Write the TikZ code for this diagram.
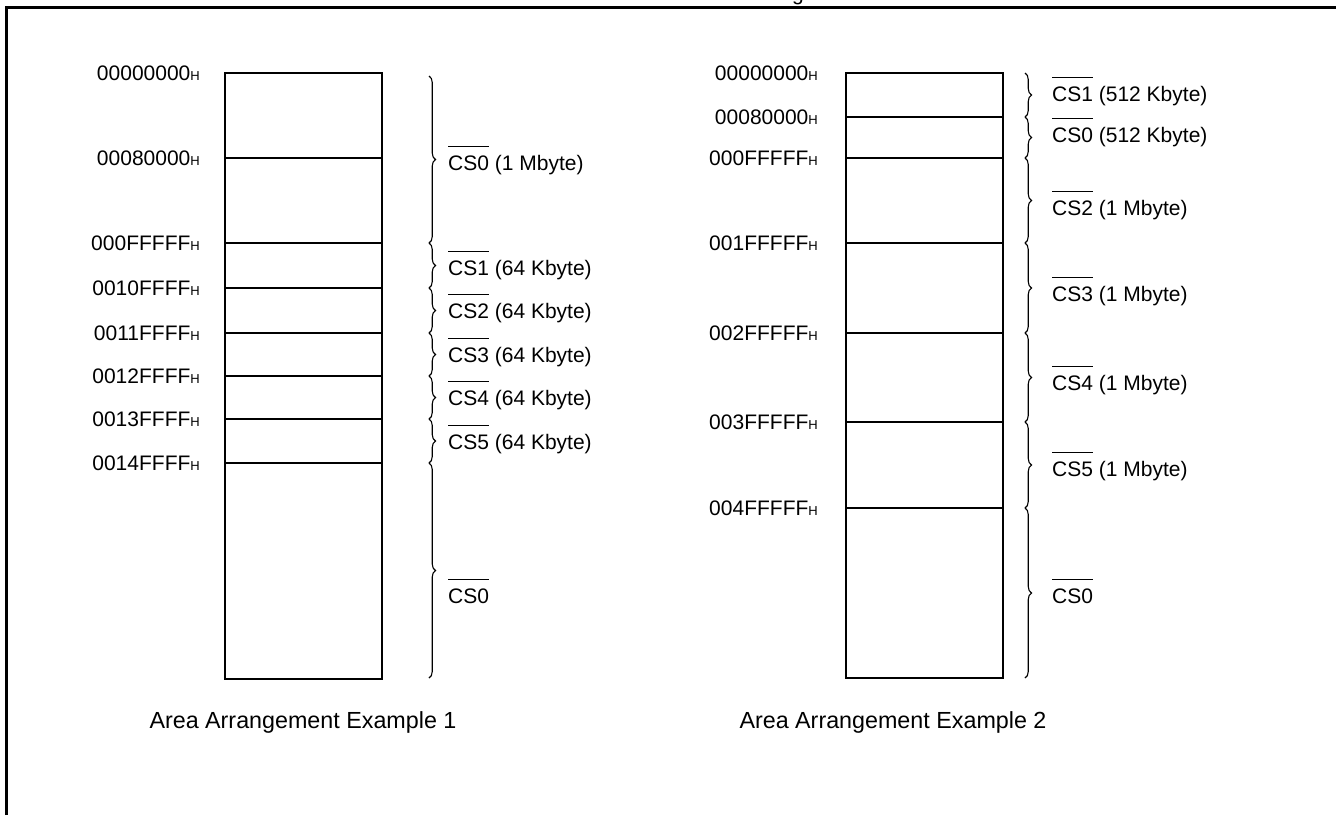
\documentclass[tikz,border=0pt]{standalone}
\usepackage{fontspec}
\setmainfont{Liberation Sans}
\usetikzlibrary{decorations.pathreplacing}
\newcommand{\addrH}{{\fontsize{13}{14}\selectfont H}}
\newcommand{\ovl}[1]{\vbox{\hrule height 1.2pt \kern 8.5pt \hbox{#1}}}
\begin{document}
\begin{tikzpicture}[x=1pt,y=-1pt,
  frame/.style={line width=2.2pt},
  mem/.style={line width=2.2pt},
  divline/.style={line width=1.2pt},
  addr/.style={anchor=base east,inner sep=0pt,font=\fontsize{21}{24}\selectfont},
  cslab/.style={anchor=base west,inner sep=0pt,font=\fontsize{21}{24}\selectfont},
  caption/.style={anchor=base,inner sep=0pt,font=\fontsize{23.3}{27}\selectfont},
  brc/.style={decorate,decoration={brace,amplitude=6.5pt},line width=1.1pt}]
\useasboundingbox (0,0) rectangle (1336,815);
% frame
\draw[frame] (6.5,815) -- (6.5,7.5) -- (1336,7.5);
\node[anchor=base,inner sep=0pt,font=\fontsize{21}{24}\selectfont] (ttl) at (798,0.5) {g};

% ---------- Example 1 ----------
\draw[mem] (225,73) rectangle (382,679);
\foreach \y in {158,243,288,333,376,419,463}
  \draw[divline] (225,\y) -- (382,\y);
\node[addr] (a1) at (200,80.6) {00000000\addrH};
\node[addr] (a2) at (200,165.6) {00080000\addrH};
\node[addr] (a3) at (200,250.6) {000FFFFF\addrH};
\node[addr] (a4) at (200,295.6) {0010FFFF\addrH};
\node[addr] (a5) at (200,340.6) {0011FFFF\addrH};
\node[addr] (a6) at (200,383.6) {0012FFFF\addrH};
\node[addr] (a7) at (200,426.6) {0013FFFF\addrH};
\node[addr] (a8) at (200,470.6) {0014FFFF\addrH};

\coordinate (b0) at (429,76);
\coordinate (b1) at (429,243);
\coordinate (b2) at (429,288);
\coordinate (b3) at (429,333);
\coordinate (b4) at (429,376);
\coordinate (b5) at (429,419);
\coordinate (b6) at (429,463);
\coordinate (b7) at (429,678);
\draw[brc] (b0) -- (b1);
\draw[brc] (b1) -- (b2);
\draw[brc] (b2) -- (b3);
\draw[brc] (b3) -- (b4);
\draw[brc] (b4) -- (b5);
\draw[brc] (b5) -- (b6);
\draw[brc] (b6) -- (b7);
\node[cslab] (c1) at (448,170) {\ovl{CS0} (1 Mbyte)};
\node[cslab] (c2) at (448,275) {\ovl{CS1} (64 Kbyte)};
\node[cslab] (c3) at (448,318) {\ovl{CS2} (64 Kbyte)};
\node[cslab] (c4) at (448,362) {\ovl{CS3} (64 Kbyte)};
\node[cslab] (c5) at (448,405) {\ovl{CS4} (64 Kbyte)};
\node[cslab] (c6) at (448,449) {\ovl{CS5} (64 Kbyte)};
\node[cslab] (c7) at (448,603) {\ovl{CS0}};
\node[caption] (cap1) at (303,728) {Area Arrangement Example 1};

% ---------- Example 2 ----------
\draw[mem] (846,73) rectangle (1003,678);
\foreach \y in {117,158,243,333,422,508}
  \draw[divline] (846,\y) -- (1003,\y);
\node[addr] (d1) at (818,80.6) {00000000\addrH};
\node[addr] (d2) at (818,124.6) {00080000\addrH};
\node[addr] (d3) at (818,165.6) {000FFFFF\addrH};
\node[addr] (d4) at (818,250.6) {001FFFFF\addrH};
\node[addr] (d5) at (818,340.6) {002FFFFF\addrH};
\node[addr] (d6) at (818,429.6) {003FFFFF\addrH};
\node[addr] (d7) at (818,515.6) {004FFFFF\addrH};

\coordinate (e0) at (1025,73);
\coordinate (e1) at (1025,117);
\coordinate (e2) at (1025,158);
\coordinate (e3) at (1025,243);
\coordinate (e4) at (1025,333);
\coordinate (e5) at (1025,422);
\coordinate (e6) at (1025,508);
\coordinate (e7) at (1025,678);
\draw[brc] (e0) -- (e1);
\draw[brc] (e1) -- (e2);
\draw[brc] (e2) -- (e3);
\draw[brc] (e3) -- (e4);
\draw[brc] (e4) -- (e5);
\draw[brc] (e5) -- (e6);
\draw[brc] (e6) -- (e7);
\node[cslab] (f1) at (1052,101) {\ovl{CS1} (512 Kbyte)};
\node[cslab] (f2) at (1052,142) {\ovl{CS0} (512 Kbyte)};
\node[cslab] (f3) at (1052,215) {\ovl{CS2} (1 Mbyte)};
\node[cslab] (f4) at (1052,301) {\ovl{CS3} (1 Mbyte)};
\node[cslab] (f5) at (1052,390) {\ovl{CS4} (1 Mbyte)};
\node[cslab] (f6) at (1052,476) {\ovl{CS5} (1 Mbyte)};
\node[cslab] (f7) at (1052,603) {\ovl{CS0}};
\node[caption] (cap2) at (893,728) {Area Arrangement Example 2};
\end{tikzpicture}
\end{document}
